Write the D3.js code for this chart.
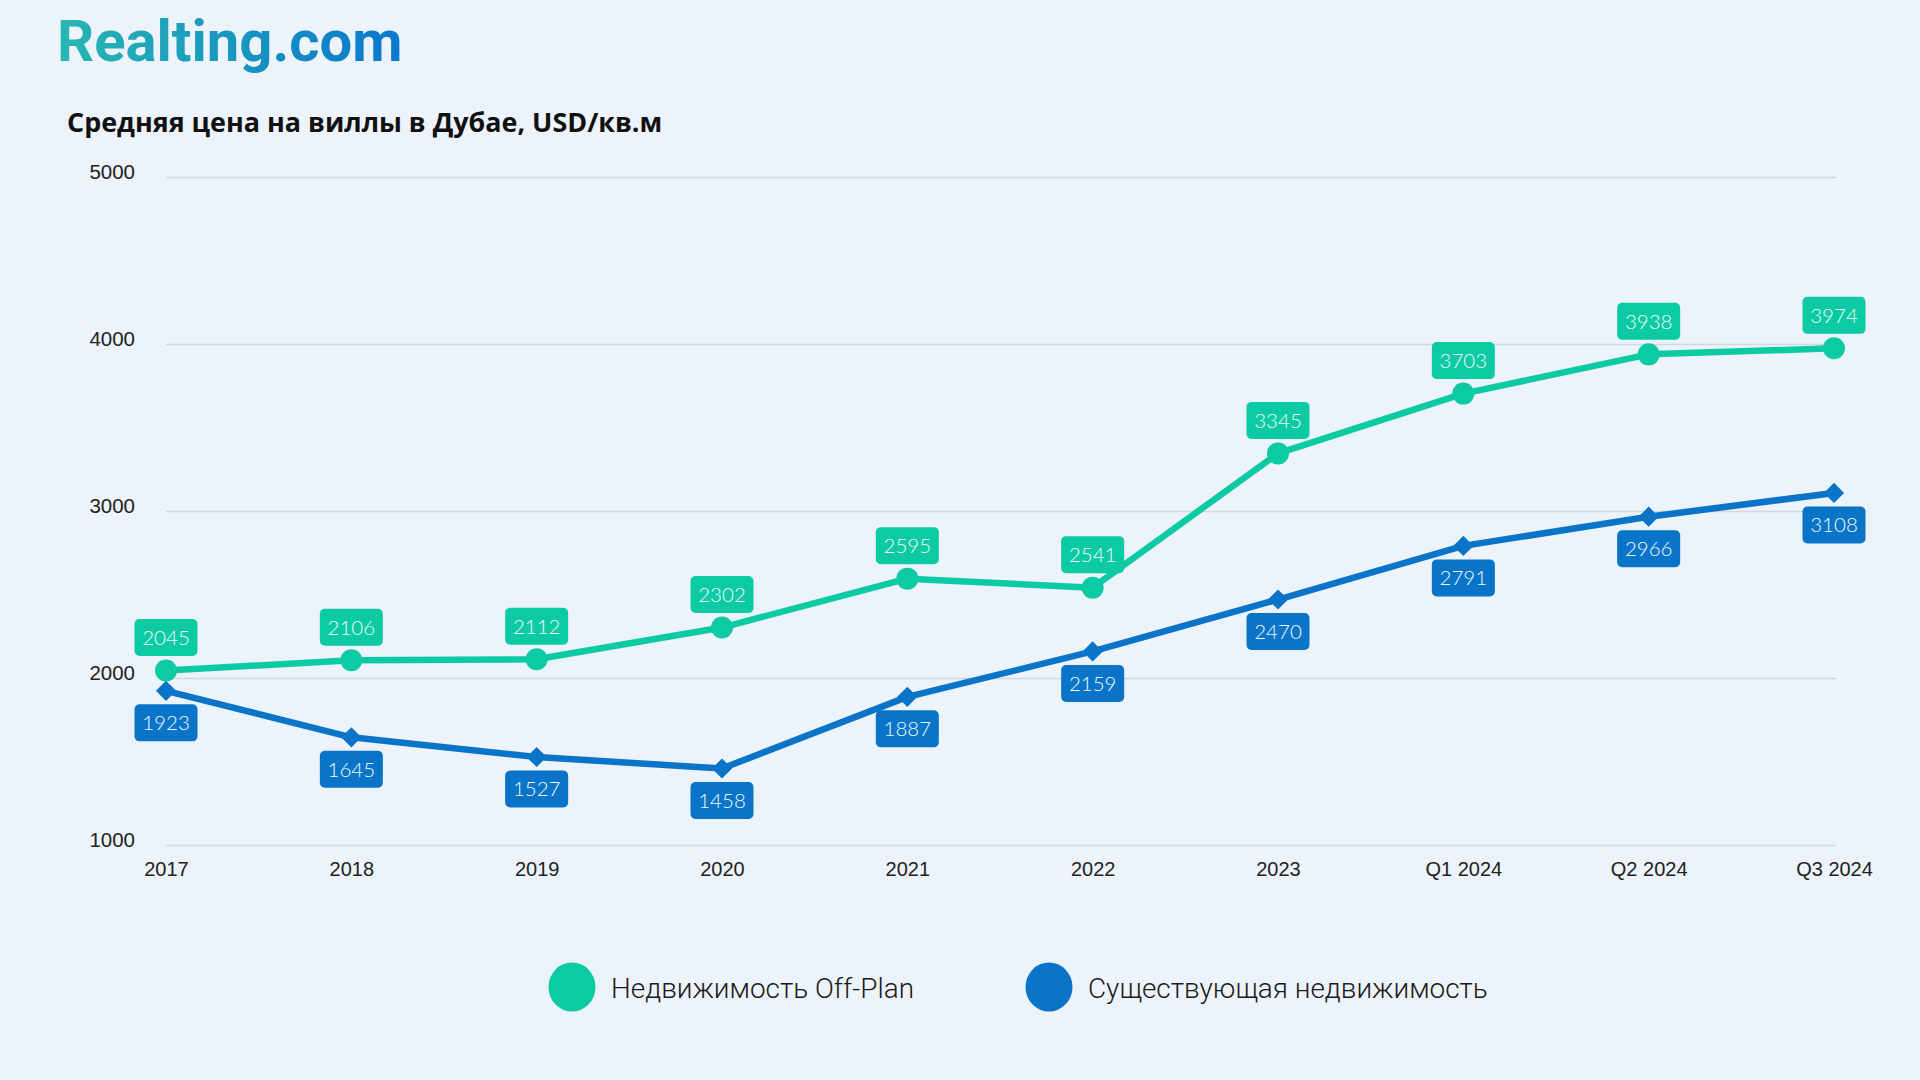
<!DOCTYPE html>
<html>
<head>
<meta charset="utf-8">
<script src="https://cdn.jsdelivr.net/npm/d3@7"></script>
<style>
  html, body { margin: 0; padding: 0; background: #edf3fa; }
  svg { display: block; }
</style>
</head>
<body>
<svg id="chart" width="1920" height="1080"></svg>
<script>
const categories = ["2017","2018","2019","2020","2021","2022","2023","Q1 2024","Q2 2024","Q3 2024"];
const offPlan = [2045,2106,2112,2302,2595,2541,3345,3703,3938,3974];
const existing = [1923,1645,1527,1458,1887,2159,2470,2791,2966,3108];
const yTicks = [1000,2000,3000,4000,5000];
const seriesNames = ["Недвижимость Off-Plan", "Существующая недвижимость"];
const titleText = "Средняя цена на виллы в Дубае, USD/кв.м";
const logoText = "Realting.com";

const GREEN = "#0ccaa4";
const BLUE = "#0a74c8";

const svg = d3.select("#chart");
svg.append("rect").attr("width",1920).attr("height",1080).attr("fill","#edf3fa");

const defs = svg.append("defs");
const grad = defs.append("linearGradient").attr("id","logoGrad").attr("x1","0%").attr("x2","100%");
grad.append("stop").attr("offset","0%").attr("stop-color","#27b7b2");
grad.append("stop").attr("offset","100%").attr("stop-color","#0a77cd");

// Logo
svg.append("text").attr("x",57).attr("y",61)
  .attr("font-family","Roboto, 'Open Sans', sans-serif").attr("font-weight",700)
  .attr("font-size",58).attr("fill","url(#logoGrad)").text(logoText);

// Title
svg.append("text").attr("x",67).attr("y",132)
  .attr("font-family","'Open Sans', Roboto, sans-serif").attr("font-weight",700)
  .attr("font-size",26.9).attr("fill","#111").text(titleText);

const x = d3.scalePoint().domain(categories).range([166, 1834]);
const y = d3.scaleLinear().domain([1000,5000]).range([845,177]);

const AXIS_FONT = "'Liberation Sans', Arial, sans-serif";

// Gridlines
const yAxis = d3.axisLeft(y).tickValues(yTicks).tickSize(-(1836-166)).tickPadding(31).tickFormat(d3.format("d"));
const gy = svg.append("g").attr("transform","translate(166,0)").call(yAxis);
gy.select(".domain").remove();
gy.selectAll(".tick line").attr("stroke","#d3d8de").attr("stroke-width",1.5);
gy.selectAll(".tick text").attr("font-family",AXIS_FONT).attr("font-size",20.5)
  .attr("fill","#222").attr("dy","0.08em");

// X axis labels
const xAxis = d3.axisBottom(x).tickSize(0).tickPadding(17);
const gx = svg.append("g").attr("transform","translate(0,845)").call(xAxis);
gx.select(".domain").remove();
gx.selectAll(".tick text").attr("font-family",AXIS_FONT).attr("font-size",20)
  .attr("fill","#222");

const line = d3.line().x((d,i)=>x(categories[i])).y(d=>y(d));

svg.append("path").datum(offPlan).attr("d",line).attr("fill","none")
  .attr("stroke",GREEN).attr("stroke-width",6.5).attr("stroke-linejoin","round");
svg.append("path").datum(existing).attr("d",line).attr("fill","none")
  .attr("stroke",BLUE).attr("stroke-width",6.5).attr("stroke-linejoin","round");

// Markers
svg.append("g").selectAll("circle").data(offPlan).join("circle")
  .attr("cx",(d,i)=>x(categories[i])).attr("cy",d=>y(d)).attr("r",11).attr("fill",GREEN);
svg.append("g").selectAll("path").data(existing).join("path")
  .attr("d",d3.symbol().type(d3.symbolDiamond2).size(260))
  .attr("transform",(d,i)=>`translate(${x(categories[i])},${y(d)})`)
  .attr("fill",BLUE);

// Labels
function labels(data, color, offset){
  const g = svg.append("g");
  const lg = g.selectAll("g").data(data).join("g")
    .attr("transform",(d,i)=>`translate(${x(categories[i])},${y(d)+offset})`);
  lg.append("rect").attr("x",-31.5).attr("y",-18.5).attr("width",63).attr("height",37)
    .attr("rx",5).attr("fill",color);
  lg.append("text").attr("text-anchor","middle").attr("dy","0.36em")
    .attr("font-family","Lato, 'Noto Sans', sans-serif").attr("font-weight",300).attr("font-size",20.5)
    .attr("fill","#eefaf6").text(d=>d);
}
labels(offPlan, GREEN, -33);
labels(existing, BLUE, 32);

// Legend
const legend = [{name: seriesNames[0], color: GREEN, cx: 572}, {name: seriesNames[1], color: BLUE, cx: 1049}];
const lgnd = svg.append("g").selectAll("g").data(legend).join("g");
lgnd.append("ellipse").attr("cx",d=>d.cx).attr("cy",987).attr("rx",23.5).attr("ry",24.5).attr("fill",d=>d.color);
lgnd.append("text").attr("x",d=>d.cx+39).attr("y",998)
  .attr("font-family","Roboto, sans-serif").attr("font-weight",300).attr("font-size",27.9)
  .attr("fill","#1a1a1a").text(d=>d.name);
</script>
</body>
</html>
